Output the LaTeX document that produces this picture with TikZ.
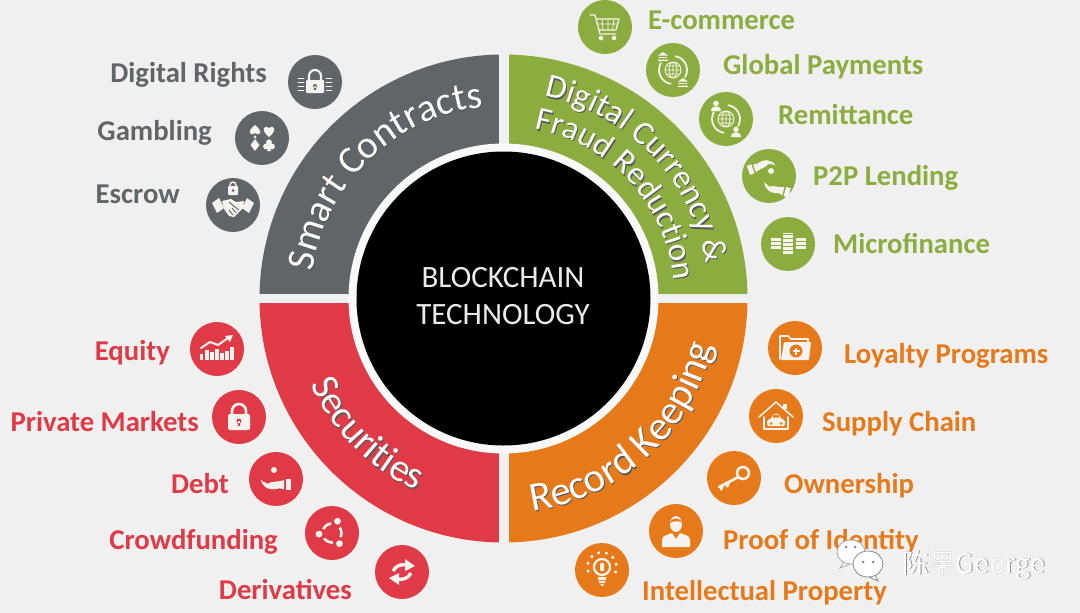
\documentclass[tikz,border=0pt]{standalone}
\usepackage{fontspec}
\setmainfont{Carlito}
\newfontfamily\cjk{Noto Sans CJK SC}
\usetikzlibrary{decorations.text}
\catcode`\&=12

\definecolor{pagebg}{HTML}{F0F0F0}
\definecolor{slate}{HTML}{5F6569}
\definecolor{leaf}{HTML}{8BAC3E}
\definecolor{amber}{HTML}{E67A1A}
\definecolor{crimson}{HTML}{E03A46}
\definecolor{iconwhite}{HTML}{F6F2EE}

\newcommand{\bandfont}[1]{\fontsize{#1}{#1}\selectfont}
% band text: radius, start angle, end angle, size, text
\newcommand{\bandtext}[5]{%
  \path[shift={(504,-299.2)}, decorate, decoration={text along path, text align=center,
    text={|\bandfont{#4}\color{black!65}|#5}}] (#2:#1) arc (#2:#3:#1);
  \path[shift={(503,-298)}, decorate, decoration={text along path, text align=center,
    text={|\bandfont{#4}\color{white}|#5}}] (#2:#1) arc (#2:#3:#1);
}

\tikzset{
  bullet/.style={circle, minimum size=54, inner sep=0, fill=#1},
  lblE/.style={anchor=base west, inner sep=0, font=\fontsize{28.7}{28.7}\selectfont\bfseries, text=#1},
  lblW/.style={anchor=base east, inner sep=0, font=\fontsize{28.7}{28.7}\selectfont\bfseries, text=#1},
  iconline/.style={draw=iconwhite, line width=1.3, line cap=round, line join=round},
  iconfill/.style={fill=iconwhite},
  pics/cartpic/.style={code={
    \draw[iconline] (-15,12) -- (-10,12) -- (-5,-7) -- (11,-7);
    \draw[iconline] (-9,8) -- (14,8) -- (11,-3) -- (-6,-3);
    \draw[iconline, line width=.8] (-8,3) -- (12.5,3) (-3,8) -- (-2,-3) (3,8) -- (3,-3) (9,8) -- (7.5,-3);
    \fill[iconfill] (-4,-11) circle (2.3) (9,-11) circle (2.3);
  }},
  pics/globepic/.style={code={
    \draw[iconline, line width=.9] (0,0) circle (8) (-8,0) -- (8,0) (0,-8) -- (0,8)
      (-7,4) -- (7,4) (-7,-4) -- (7,-4) (0,8) arc (90:270:4 and 8) (0,8) arc (90:-90:4 and 8);
    \draw[iconline, line width=1.8] (150:14) arc (150:260:14) (330:14) arc (330:440:14);
  }},
  pics/bankpic/.style={code={
    \fill[iconfill] (-5,1.5) -- (0,5) -- (5,1.5) -- cycle (-5,-4) rectangle (5,-2.5);
    \draw[iconline, line width=1.2, dash pattern=on 1.5 off 1.5] (-4,-.5) -- (4.5,-.5);
  }},
  pics/personpic/.style={code={
    \fill[iconfill] (0,2.5) circle (2.8) (-5,-5) .. controls (-5,-1) and (-2,-.5) .. (0,-.5) .. controls (2,-.5) and (5,-1) .. (5,-5) -- cycle;
  }},
  pics/handpic/.style={code={
    \fill[iconfill] (-17,3) .. controls (-15,-7) and (-6,-10) .. (4,-7) -- (9,-8) -- (9,2) -- (4,1)
      .. controls (0,0) and (-5,1) .. (-9,-2) .. controls (-12,0) and (-14,-1) .. (-17,3) -- cycle;
    \fill[iconfill] (11,3) rectangle (17,-9);
  }},
  pics/lockpic/.style={code={
    \fill[iconfill, rounded corners=1] (-9,-11) rectangle (9,2);
    \draw[iconline, line width=2.2] (-6,2) -- (-6,6) arc (180:0:6) -- (6,2);
    \fill[slate] (0,-4) circle (2) (-1,-8) rectangle (1,-4);
    \draw[iconline, line width=.9] (-17,4) -- (-11,4) (-17,0) -- (-11,0) (-17,-4) -- (-11,-4) (-17,-8) -- (-11,-8)
      (11,4) -- (17,4) (11,0) -- (17,0) (11,-4) -- (17,-4) (11,-8) -- (17,-8);
  }},
  pics/cardspic/.style={code={
    \fill[iconfill, shift={(7,7)}] (0,-6) .. controls (-8,0) and (-6,7) .. (0,3) .. controls (6,7) and (8,0) .. (0,-6);
    \fill[iconfill, shift={(-7,7)}] (0,6) .. controls (-8,0) and (-6,-6) .. (0,-2) .. controls (6,-6) and (8,0) .. (0,6);
    \fill[iconfill] (-8.5,0) -- (-5.5,0) -- (-7,3) -- cycle;
    \fill[iconfill, shift={(-7,-7)}] (0,6) -- (4.5,0) -- (0,-6) -- (-4.5,0) -- cycle;
    \fill[iconfill, shift={(7,-7)}] (0,2.8) circle (2.9) (-3,-1.5) circle (2.9) (3,-1.5) circle (2.9) (-2,-6) -- (2,-6) -- (0,0) -- cycle;
  }},
  pics/shakepic/.style={code={
    \fill[iconfill] (-21,2) -- (-14,7) -- (-9,-3) -- (-16,-8) -- cycle (21,2) -- (14,7) -- (9,-3) -- (16,-8) -- cycle;
    \fill[iconfill] (-11,4) -- (-2,6) -- (3,3) -- (11,4) -- (10,-3) -- (1,-12) -- (-4,-11) -- (-9,-4) -- cycle;
    \draw[slate, line width=.9] (-4,3) -- (2,-2) -- (6,-5) (-1,-3) -- (3,-8) (-4,-5) -- (0,-10);
    \fill[iconfill, rounded corners=1] (-5,10) rectangle (5,19);
    \draw[iconline, line width=1.4] (-3,19) -- (-3,20) arc (180:0:3) -- (3,19);
    \fill[slate] (0,14.5) circle (1.5);
  }},
  pics/chartpic/.style={code={
    \draw[iconwhite, line width=3.2] (-15.5,-11) -- (-15.5,-5) (-10,-11) -- (-10,-1) (-5,-11) -- (-5,-3) (0,-11) -- (0,0)
      (5,-11) -- (5,-4) (10,-11) -- (10,-2) (15,-11) -- (15,2);
    \draw[iconline, line width=2] (-16,1) -- (-7,7) -- (1,4) -- (11,11);
    \fill[iconfill] (8,13) -- (16,14) -- (13,7) -- cycle;
  }},
  pics/openlockpic/.style={code={
    \fill[iconfill, rounded corners=2] (-11,-13) rectangle (11,3);
    \draw[iconline, line width=2.6] (-7,3) -- (-7,6) arc (180:0:7) -- (7,3);
    \fill[crimson] (0,-4) circle (2.4) (-1.2,-9) rectangle (1.2,-4);
  }},
  pics/ringpic/.style={code={
    \draw[iconline, line width=2.6] (0,0) circle (9.5);
    \fill[crimson] (65:10) circle (5.2) (185:10) circle (5.2) (305:10) circle (5.2);
    \fill[iconfill] (65:13) circle (3.4) (185:13) circle (3.4) (305:13) circle (3.4);
  }},
  pics/swappic/.style={code={
    \draw[iconline, line width=3.4, line cap=butt] (-9,1) .. controls (-6,7) and (0,8) .. (5,7);
    \fill[iconfill] (3,13) -- (13,6) -- (3,1) -- cycle;
    \draw[iconline, line width=3.4, line cap=butt] (9,-1) .. controls (6,-7) and (0,-8) .. (-5,-7);
    \fill[iconfill] (-3,-13) -- (-13,-6) -- (-3,-1) -- cycle;
  }},
  pics/folderpic/.style={code={
    \draw[iconline, line width=1.6] (-15,-11) -- (-15,12) -- (-7,12) -- (-4,9) -- (13,9) -- (13,5);
    \fill[iconfill, rounded corners=1] (-14,-12) -- (-11,6) -- (16,6) -- (14,-12) -- cycle;
    \fill[amber] (1,-3) circle (6.5);
    \draw[iconwhite, line width=2.2] (-2.5,-3) -- (4.5,-3) (1,-6.5) -- (1,.5);
  }},
  pics/housepic/.style={code={
    \draw[iconline, line width=1.6] (-17,-1) -- (0,14) -- (17,-1);
    \fill[iconfill] (7,12) rectangle (11,7);
    \draw[iconline, line width=1.4] (-12,-1) -- (-12,-13) -- (12,-13) -- (12,-1);
    \fill[iconfill, rounded corners=1.5] (-9,-10) -- (-9,-4) -- (-5,-3) -- (-3,2) -- (3,2) -- (5,-3) -- (9,-4) -- (9,-10) -- cycle;
    \fill[amber] (-3,-1.5) rectangle (3,.8) (-5,-7.5) circle (1.5) (5,-7.5) circle (1.5);
  }},
  pics/keypic/.style={code={
    \draw[iconline, line width=2.6] (9,5) circle (6);
    \draw[iconline, line width=2.6] (4.5,1) -- (-15,-9) (-11,-7) -- (-13,-11.5) (-5,-4) -- (-7,-8.5);
  }},
  pics/agentpic/.style={code={
    \fill[iconfill] (0,7) ellipse (6 and 8);
    \fill[amber] (-6,8) .. controls (-3,10) and (3,11) .. (6,8) .. controls (6,14) and (-6,14) .. (-6,8);
    \fill[iconfill] (-14,-16) -- (-14,-9) .. controls (-14,-4) and (-8,-4) .. (-4,-2) -- (0,-8) -- (4,-2) .. controls (8,-4) and (14,-4) .. (14,-9) -- (14,-16) -- cycle;
  }},
  pics/bulbpic/.style={code={
    \draw[iconline, line width=2.2] (0,3) circle (8);
    \fill[iconfill] (-4,-7) rectangle (4,-10) (-3,-11) rectangle (3,-13) (-1.5,-14) rectangle (1.5,-15.5);
    \fill[iconfill, rounded corners=1] (-2,-1) rectangle (2,7);
    \draw[iconwhite, line width=2.4, dash pattern=on 2.5 off 5.3, shift={(0,3)}] (-25:14.5) arc (-25:205:14.5);
  }},
  pics/wechatpic/.style={code={
    \filldraw[draw=black!35, fill=white, line width=.8] (-9,9) ellipse (14 and 12) (-16,-1) -- (-20,-7) -- (-10,-3);
    \filldraw[draw=black!45, fill=white, line width=.8] (8,-3) ellipse (15 and 13) (15,-14) -- (18,-20) -- (9,-16);
    \fill[black!45] (-14,14) circle (1.5) (-5,14) circle (1.5) (3,-1) circle (1.5) (13,-1) circle (1.5);
  }}
}

\begin{document}
\begin{tikzpicture}[x=1pt, y=1pt]
\useasboundingbox (0,0) rectangle (1080,-613);
\fill[pagebg] (0,0) rectangle (1080,-613);

% Ring
\coordinate (hub) at (503.5,-298.5);
\fill[leaf] (hub) -- ++(0:244) arc (0:90:244) -- cycle;
\fill[slate] (hub) -- ++(90:244) arc (90:180:244) -- cycle;
\fill[crimson] (hub) -- ++(180:244) arc (180:270:244) -- cycle;
\fill[amber] (hub) -- ++(270:244) arc (270:360:244) -- cycle;
\fill[pagebg] (255,-294) rectangle (752,-303);
\fill[pagebg] (499,-50) rectangle (508.5,-547);
\fill[pagebg!40!white] (hub) circle (155);
\node[circle, fill=black, minimum size=294, inner sep=0] (core) at (hub) {};
\node[anchor=base, text=white!92!black, font=\fontsize{31}{31}\selectfont] (core1) at (503,-287) {BLOCKCHAIN};
\node[anchor=base, text=white!92!black, font=\fontsize{31}{31}\selectfont] (core2) at (503,-324) {TECHNOLOGY};

% Ring texts
\bandtext{192}{178}{90}{39}{Smart Contracts}
\bandtext{206}{88}{0}{33.5}{Digital Currency &}
\bandtext{172}{88}{-3}{33}{Fraud Reduction}
\bandtext{215}{-87.5}{-7.5}{41}{Record Keeping}
\bandtext{211}{-165}{-105}{39}{Securities}

% Smart contracts (grey)
\node[bullet=slate] (rights) at (315,-82) {};
\node[bullet=slate] (gambling) at (262,-138) {};
\node[bullet=slate] (escrow) at (233,-205) {};
\pic at (rights) {lockpic};
\pic at (gambling) {cardspic};
\pic at (escrow) {shakepic};
\node[lblW=slate] (rightsL) at (267,-82) {Digital Rights};
\node[lblW=slate] (gamblingL) at (212,-140) {Gambling};
\node[lblW=slate] (escrowL) at (180,-203) {Escrow};

% Digital currency (green)
\node[bullet=leaf] (ecom) at (605,-27) {};
\node[bullet=leaf] (global) at (673,-70) {};
\node[bullet=leaf] (remit) at (726,-119) {};
\node[bullet=leaf] (lending) at (769,-176) {};
\node[bullet=leaf] (micro) at (788,-244) {};
\pic at (ecom) {cartpic};
\pic at (global) {globepic};
\pic at (663,-57) {bankpic};
\pic at (683,-83) {bankpic};
\pic at (remit) {globepic};
\pic at (716,-106) {personpic};
\pic at (736,-132) {personpic};
\pic[rotate=200, scale=.8] at (762,-168) {handpic};
\pic[rotate=-15, scale=.8] at (777,-187) {handpic};
\fill[iconfill] (771,-171) circle (3);
\draw[iconwhite, line width=10, dash pattern=on 3 off 1] (788,-254) -- (788,-233);
\draw[iconwhite, line width=10, dash pattern=on 3 off 1] (776,-249) -- (776,-238);
\draw[iconwhite, line width=10, dash pattern=on 3 off 1] (801,-249) -- (801,-238);
\node[lblE=leaf] (ecomL) at (648,-29) {E-commerce};
\node[lblE=leaf] (globalL) at (723,-74) {Global Payments};
\node[lblE=leaf] (remitL) at (778,-124) {Remittance};
\node[lblE=leaf] (lendingL) at (813,-185) {P2P Lending};
\node[lblE=leaf] (microL) at (833,-253) {Microfinance};

% Record keeping (orange)
\node[bullet=amber] (loyalty) at (795,-348) {};
\node[bullet=amber] (supply) at (776,-416) {};
\node[bullet=amber] (owner) at (734,-478) {};
\node[bullet=amber] (proof) at (676,-531) {};
\node[bullet=amber] (ip) at (602,-570) {};
\pic at (loyalty) {folderpic};
\pic at (supply) {housepic};
\pic at (owner) {keypic};
\pic at (proof) {agentpic};
\pic at (ip) {bulbpic};
\node[lblE=amber] (loyaltyL) at (844,-363) {Loyalty Programs};
\node[lblE=amber] (supplyL) at (822,-431) {Supply Chain};
\node[lblE=amber] (ownerL) at (784,-493) {Ownership};
\node[lblE=amber] (proofL) at (723,-549) {Proof of Identity};
\node[lblE=amber] (ipL) at (642,-600) {Intellectual Property};

% Securities (red)
\node[bullet=crimson] (equity) at (217,-349) {};
\node[bullet=crimson] (private) at (239,-417) {};
\node[bullet=crimson] (debt) at (276,-479) {};
\node[bullet=crimson] (crowd) at (332,-533) {};
\node[bullet=crimson] (deriv) at (402,-572) {};
\pic at (equity) {chartpic};
\pic at (private) {openlockpic};
\pic[scale=.9] at (276,-482) {handpic};
\fill[iconfill] (274,-470) circle (3);
\pic at (crowd) {ringpic};
\pic at (deriv) {swappic};
\node[lblW=crimson] (equityL) at (170,-360) {Equity};
\node[lblW=crimson] (privateL) at (199,-431) {Private Markets};
\node[lblW=crimson] (debtL) at (229,-493) {Debt};
\node[lblW=crimson] (crowdL) at (278,-549) {Crowdfunding};
\node[lblW=crimson] (derivL) at (352,-599) {Derivatives};

% Watermark
\pic at (860,-561) {wechatpic};
\node[anchor=base west, inner sep=0, text=black!45, font=\fontsize{26.8}{26.8}\selectfont\cjk] (markS) at (902.8,-573.8) {陈果George};
\node[anchor=base west, inner sep=0, text=white, font=\fontsize{26.8}{26.8}\selectfont\cjk] (mark) at (902,-573) {陈果George};
\end{tikzpicture}
\end{document}
